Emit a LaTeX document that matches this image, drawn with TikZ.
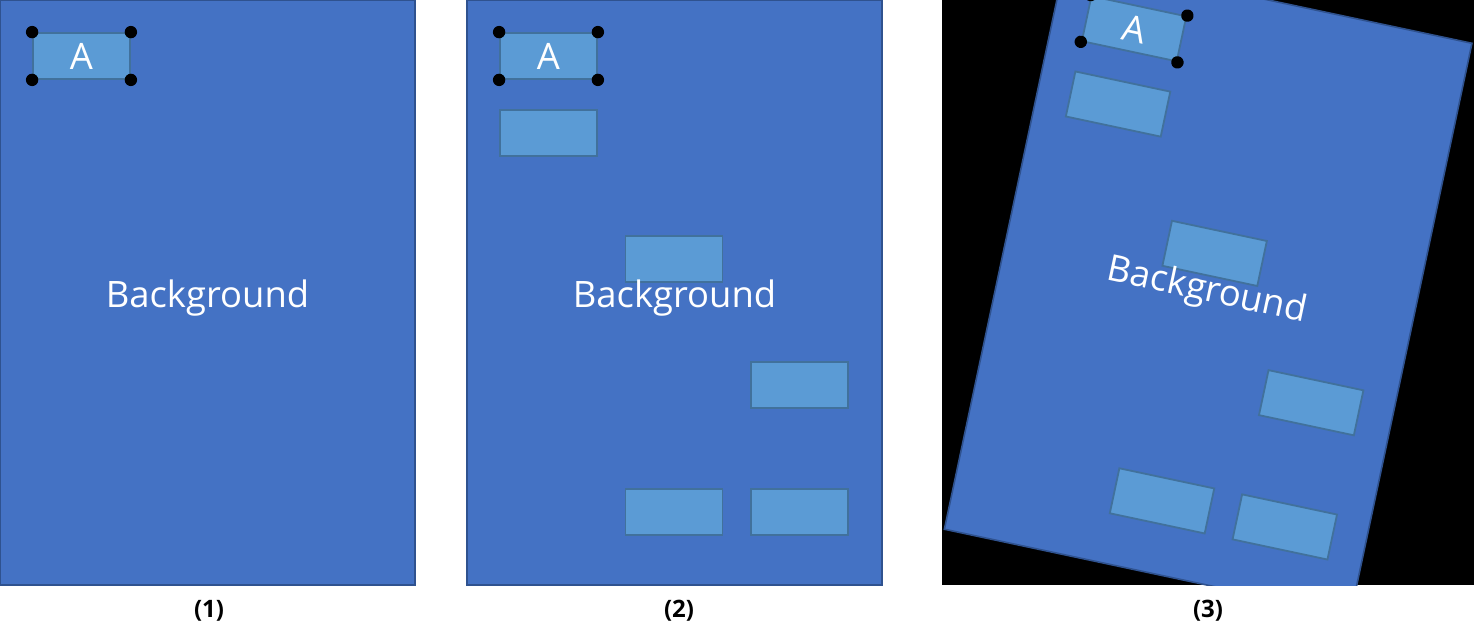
\documentclass[tikz,border=0pt]{standalone}
\usepackage{fontspec}
\setmainfont{Open Sans}
\usetikzlibrary{positioning}
\definecolor{bgblue}{HTML}{4472C4}
\definecolor{bgline}{HTML}{2F528F}
\definecolor{itemfill}{HTML}{5B9BD5}
\definecolor{itemline}{HTML}{41719C}

% one slide: background, the A box with its handles, the label
\newcommand{\slidebase}{%
  \draw[bgrect] (0,0) rectangle (415,585);
  \node[item,bglabel] (a) at (81.5,56) {A};
  \foreach \c/\n in {north west/nw,north east/ne,south west/sw,south east/se}
    \node[handle] (h-\n) at (a.\c) {};
}

\begin{document}
\begin{tikzpicture}[x=0.5pt,y=-0.5pt,
    bgrect/.style={fill=bgblue,draw=bgline,line width=0.8pt},
    item/.style={fill=itemfill,draw=itemline,line width=0.9pt,
      minimum width=48.5pt,minimum height=23pt,inner sep=0pt},
    handle/.style={circle,fill=black,inner sep=0pt,minimum size=6.2pt},
    bglabel/.style={text=white,font=\fontsize{18.2}{21}\selectfont},
    caption/.style={font=\bfseries\fontsize{12}{14}\selectfont}]
  \useasboundingbox (0,0) rectangle (1474,639);

  % (1)
  \begin{scope}[name prefix=p1-]
    \slidebase
    \node[bglabel] (bg) at (207.5,298) {Background};
  \end{scope}
  \node[caption] (cap1) at (209,611) {(1)};

  % (2)
  \begin{scope}[shift={(467,0)},name prefix=p2-]
    \slidebase
    \foreach \cx/\cy/\nm in {81.5/133/b2,207/259/b3,332.5/385/b4,207/512/b5,332.5/512/b6}
      \node[item] (\nm) at (\cx,\cy) {};
    \node[bglabel] (bg) at (207.5,298) {Background};
  \end{scope}
  \node[caption] (cap2) at (679,611) {(2)};

  % (3) rotated copy
  \begin{scope}
    \clip (942,0) rectangle (1474,585);
    \fill[black] (942,0) rectangle (1474,585);
    \begin{scope}[shift={(1066,-43)},rotate=-12,transform shape,name prefix=p3-]
      \slidebase
      \foreach \cx/\cy/\nm in {81.5/133/b2,207/259/b3,332.5/385/b4,207/512/b5,332.5/512/b6}
        \node[item] (\nm) at (\cx,\cy) {};
      \node[bglabel] (bg) at (207.5,298) {Background};
    \end{scope}
  \end{scope}
  \node[caption] (cap3) at (1208,611) {(3)};
\end{tikzpicture}
\end{document}
